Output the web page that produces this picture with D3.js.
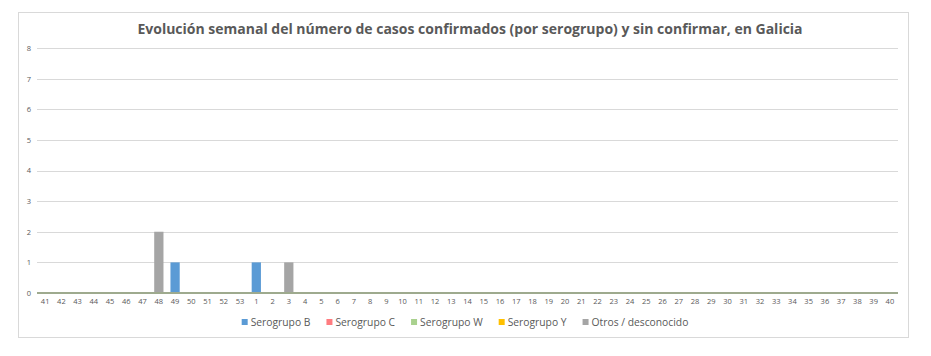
<!DOCTYPE html>
<html>
<head>
<meta charset="utf-8">
<script src="https://cdn.jsdelivr.net/npm/d3@7"></script>
<style>
    body { margin: 0; background: #fff; }
    text { font-family: "Open Sans", "Noto Sans", sans-serif; fill: #595959; }
</style>
</head>
<body>
<div id="chart"></div>
<script>
(function(d3) {
    'use strict';

    // weeks 41..53 then 1..40
    var weeks = ['41', '42', '43', '44', '45', '46', '47', '48', '49', '50', '51', '52', '53',
        '1', '2', '3', '4', '5', '6', '7', '8', '9', '10', '11', '12', '13', '14', '15', '16',
        '17', '18', '19', '20', '21', '22', '23', '24', '25', '26', '27', '28', '29', '30',
        '31', '32', '33', '34', '35', '36', '37', '38', '39', '40'];

    var seriesNames = ['Serogrupo B', 'Serogrupo C', 'Serogrupo W', 'Serogrupo Y', 'Otros / desconocido'];
    var seriesColors = ['#5b9bd5', '#ff7c80', '#a9d18e', '#ffc000', '#a5a5a5'];

    //                 41 42 43 44 45 46 47 48 49 50 51 52 53  1  2  3  4 ...
    var serogrupoB = [0, 0, 0, 0, 0, 0, 0, 0, 1, 0, 0, 0, 0, 1, 0, 0, 0, 0, 0, 0, 0, 0, 0, 0, 0, 0, 0, 0, 0, 0, 0, 0, 0, 0, 0, 0, 0, 0, 0, 0, 0, 0, 0, 0, 0, 0, 0, 0, 0, 0, 0, 0, 0];
    var serogrupoC = [0, 0, 0, 0, 0, 0, 0, 0, 0, 0, 0, 0, 0, 0, 0, 0, 0, 0, 0, 0, 0, 0, 0, 0, 0, 0, 0, 0, 0, 0, 0, 0, 0, 0, 0, 0, 0, 0, 0, 0, 0, 0, 0, 0, 0, 0, 0, 0, 0, 0, 0, 0, 0];
    var serogrupoW = [0, 0, 0, 0, 0, 0, 0, 0, 0, 0, 0, 0, 0, 0, 0, 0, 0, 0, 0, 0, 0, 0, 0, 0, 0, 0, 0, 0, 0, 0, 0, 0, 0, 0, 0, 0, 0, 0, 0, 0, 0, 0, 0, 0, 0, 0, 0, 0, 0, 0, 0, 0, 0];
    var serogrupoY = [0, 0, 0, 0, 0, 0, 0, 0, 0, 0, 0, 0, 0, 0, 0, 0, 0, 0, 0, 0, 0, 0, 0, 0, 0, 0, 0, 0, 0, 0, 0, 0, 0, 0, 0, 0, 0, 0, 0, 0, 0, 0, 0, 0, 0, 0, 0, 0, 0, 0, 0, 0, 0];
    var otros =      [0, 0, 0, 0, 0, 0, 0, 2, 0, 0, 0, 0, 0, 0, 0, 1, 0, 0, 0, 0, 0, 0, 0, 0, 0, 0, 0, 0, 0, 0, 0, 0, 0, 0, 0, 0, 0, 0, 0, 0, 0, 0, 0, 0, 0, 0, 0, 0, 0, 0, 0, 0, 0];

    var yTicks = [0, 1, 2, 3, 4, 5, 6, 7, 8];

    var title = 'Evolución semanal del número de casos confirmados (por serogrupo) y sin confirmar, en Galicia';

    var width = 931, height = 356;
    var margin = { left: 37, right: 33, top: 48, bottom: 63 };

    var svg = d3.select('#chart').append('svg')
        .attr('width', width)
        .attr('height', height);

    // outer chart border
    svg.append('rect')
        .attr('x', 18.5).attr('y', 12.5)
        .attr('width', 890).attr('height', 325)
        .attr('fill', '#fff')
        .attr('stroke', '#d9d9d9');

    svg.append('text')
        .attr('x', 470)
        .attr('y', 34)
        .attr('text-anchor', 'middle')
        .style('font-size', '14px')
        .style('font-weight', 'bold')
        .text(title);

    var table = weeks.map(function(w, i) {
        return {
            week: w,
            'Serogrupo B': serogrupoB[i],
            'Serogrupo C': serogrupoC[i],
            'Serogrupo W': serogrupoW[i],
            'Serogrupo Y': serogrupoY[i],
            'Otros / desconocido': otros[i]
        };
    });

    var x = d3.scaleBand()
        .domain(weeks)
        .range([margin.left, width - margin.right])
        .paddingInner(0.43)
        .paddingOuter(0.215);

    var y = d3.scaleLinear()
        .domain([0, 8])
        .range([height - margin.bottom, margin.top]);

    var color = d3.scaleOrdinal().domain(seriesNames).range(seriesColors);

    // gridlines
    svg.append('g')
        .selectAll('line')
        .data(yTicks.slice(1))
        .enter()
        .append('line')
        .attr('x1', margin.left).attr('x2', width - margin.right)
        .attr('y1', function(d) { return Math.round(y(d)) + 0.5; })
        .attr('y2', function(d) { return Math.round(y(d)) + 0.5; })
        .attr('stroke', '#d9d9d9');

    var yAxis = svg.append('g')
        .attr('transform', 'translate(' + (margin.left - 6) + ',0)')
        .call(d3.axisLeft(y).tickValues(yTicks).tickSize(0).tickPadding(0));
    yAxis.select('.domain').remove();
    yAxis.selectAll('text').style('font-size', '7.5px').attr('dy', '0.32em');

    var stack = d3.stack().keys(seriesNames);
    var layers = stack(table);

    svg.append('g')
        .selectAll('g')
        .data(layers)
        .enter()
        .append('g')
        .attr('fill', function(d) { return color(d.key); })
        .selectAll('rect')
        .data(function(d) { return d.filter(function(p) { return p[1] > p[0]; }); })
        .enter()
        .append('rect')
        .attr('x', function(d) { return x(d.data.week); })
        .attr('width', x.bandwidth())
        .attr('y', function(d) { return y(d[1]); })
        .attr('height', function(d) { return y(d[0]) - y(d[1]); });

    // baseline
    svg.append('line')
        .attr('x1', margin.left).attr('x2', width - margin.right)
        .attr('y1', y(0)).attr('y2', y(0))
        .attr('stroke', '#9eaa8e')
        .attr('stroke-width', 2);

    var xAxis = svg.append('g')
        .attr('transform', 'translate(0,' + (y(0) + 4) + ')')
        .call(d3.axisBottom(x).tickSize(0).tickPadding(0));
    xAxis.select('.domain').remove();
    xAxis.selectAll('text').style('font-size', '7.5px').attr('dy', '0.9em');

    // legend
    var legend = svg.append('g').attr('class', 'legend');
    var lx = 0;
    var items = legend.selectAll('g')
        .data(seriesNames)
        .enter()
        .append('g');

    items.append('rect')
        .attr('width', 6).attr('height', 6)
        .attr('y', -3)
        .attr('fill', color);

    items.append('text')
        .attr('x', 9)
        .attr('dy', '0.35em')
        .style('font-size', '10.3px')
        .text(function(d) { return d; });

    items.each(function() {
        var g = d3.select(this);
        g.attr('transform', 'translate(' + lx + ',0)');
        lx += 9 + g.select('text').node().getComputedTextLength() + 16;
    });
    lx -= 16;
    legend.attr('transform', 'translate(' + (465 - lx / 2) + ',322)');

})(window.d3);
</script>
</body>
</html>
